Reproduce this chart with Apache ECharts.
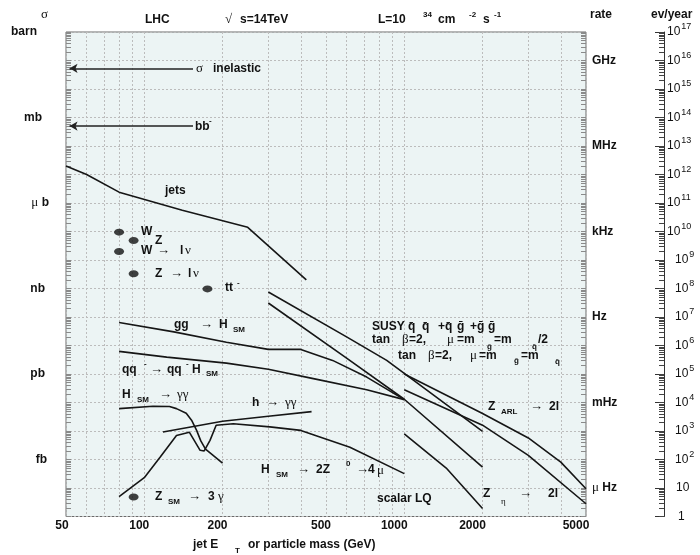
<!DOCTYPE html>
<html><head><meta charset="utf-8">
<script src="https://cdn.jsdelivr.net/npm/echarts@6/dist/echarts.min.js"></script>
<style>html,body{margin:0;padding:0;background:#fff}#c{width:700px;height:555px}</style>
</head><body><div id="c"></div>
<script>
// ---------------- data ----------------
const xTickLabels = [50, 100, 200, 500, 1000, 2000, 5000];
const xGridValues = [50,60,70,80,90,100,200,300,400,500,600,700,800,900,1000,2000,3000,4000,5000];
const sigmaLabels = ['barn', 'mb', 'μ b', 'nb', 'pb', 'fb'];          // at 1, 1e-3, ... barn
const sigmaLabelValues = [1, 1e-3, 1e-6, 1e-9, 1e-12, 1e-15];
const rateLabels = ['GHz', 'MHz', 'kHz', 'Hz', 'mHz', 'μ Hz'];         // L = 1e34 cm^-2 s^-1
const rateLabelValues = [1e-1, 1e-4, 1e-7, 1e-10, 1e-13, 1e-16];

const sigmaInelastic = 0.053;   // barn
const sigmaBBbar = 5.0e-4;      // barn

const jets  = [[50,2.0e-5],[60,1.0e-5],[80,2.4e-6],[140,5.6e-7],[250,1.4e-7],[420,2.0e-9]];
const ggH   = [[80,6.4e-11],[130,3.0e-11],[207,1.3e-11],[300,7.3e-12],[400,7.3e-12],[530,3.0e-12],[717,7.8e-13],[1000,1.26e-13]];
const qqH   = [[80,6.2e-12],[122,3.9e-12],[207,2.4e-12],[300,1.46e-12],[447,6.9e-13],[717,2.8e-13],[1000,1.26e-13]];
const hSMgg = [[80,6.1e-14],[108,7.4e-14],[125,7.2e-14],[133,6.1e-14],[145,4.2e-14],[152,2.4e-14],[159,1.05e-14],[165,4.5e-15],[172,2.3e-15],[184,1.4e-15],[200,7.5e-16]];
const hgg   = [[118,9.2e-15],[200,2.2e-14],[300,3.3e-14],[440,4.8e-14]];
const h4mu  = [[80,5.0e-17],[100,2.3e-16],[115,1.2e-15],[133,7.0e-15],[149,9.1e-15],[164,2.1e-15],[170,2.0e-15],[179,4.7e-15],[189,1.6e-14],[220,1.8e-14],[304,1.4e-14],[400,1.05e-14],[618,2.7e-15],[1000,3.2e-16]];
const susyHalf = [[300,7.5e-10],[600,2.0e-11],[856,3.0e-12],[2000,9.7e-15]];
const susyEq   = [[300,3.1e-10],[600,3.6e-12],[1000,1.3e-13],[2000,5.4e-16]];
const zARL  = [[1000,1.0e-12],[2000,4.1e-14],[3000,5.7e-15],[4000,8.1e-16],[5000,9.4e-17]];
const zEta  = [[1000,2.8e-13],[2000,1.6e-14],[3000,1.4e-15],[5000,2.8e-17]];
const scalarLQ = [[1000,8.0e-15],[1450,5.0e-16],[2000,1.9e-17]];
const dots  = [[80,9.5e-8],[91,4.8e-8],[80,2.0e-8],[91,3.3e-9],[175,9.7e-10],[91,4.8e-17]];

// ---------------- helpers ----------------
const SANS = "'Liberation Sans', Arial, sans-serif";
const SERIF = "'Liberation Serif', 'DejaVu Serif', serif";
function logTicks(lo, hi) { const o = []; for (let e = lo; e < hi; e++) for (let m = 1; m < 10; m++) o.push(+(m + 'e' + e)); o.push(+('1e' + hi)); return o; }
function decades(lo, hi) { const o = []; for (let e = lo; e <= hi; e++) o.push(+('1e' + e)); return o; }

const GRID = { left: 66, top: 32, width: 520, height: 484.5 };
const LINE = { color: '#161616', width: 1.6 };
const TXT = '#111';

// annotation texts [x, y, text, style]
const annotations = [
  [41,15,'σ','y'],
  [145,20,'LHC','b'], [225,20,'√','y'], [240,20,'s=14TeV','b'],
  [378,20,'L=10','b'], [423,15,'34','s'], [438,20,'cm','b'], [469,15,'-2','s'], [483,20,'s','b'], [494,15,'-1','s'],
  [590,15,'rate','b'], [651,15,'ev/year','b'],
  [196,69,'σ','y'], [213,69,'inelastic','b'],
  [195,127,'bb','b'], [209,121,'-','s'],
  [165,191,'jets','b'],
  [141,232,'W','b'], [155,241,'Z','b'],
  [141,251,'W','b'], [157,251,'→','y'], [180,251,'l','b'], [185,251,'ν','y'],
  [155,274,'Z','b'], [170,274,'→','y'], [188,274,'l','b'], [193,274,'ν','y'],
  [225,288,'tt','b'], [237,283,'-','s'],
  [174,325,'gg','b'], [200,325,'→','y'], [219,325,'H','b'], [233,330,'SM','s'],
  [122,370,'qq','b'], [144,364,'-','s'], [150,370,'→','y'], [167,370,'qq','b'], [186,364,'-','s'], [192,370,'H','b'], [206,374,'SM','s'],
  [122,395,'H','b'], [137,400,'SM','s'], [159,395,'→','y'], [177,395,'γγ','y'],
  [252,403,'h','b'], [266,403,'→','y'], [285,403,'γγ','y'],
  [261,470,'H','b'], [276,475,'SM','s'], [297,470,'→','y'], [316,470,'2Z','b'], [346,464,'0','s'], [356,470,'→','y'], [368,470,'4','b'], [377,471,'μ','y'],
  [155,497,'Z','b'], [168,502,'SM','s'], [188,497,'→','y'], [208,497,'3','b'], [218,497,'γ','y'],
  [377,499,'scalar LQ','b'],
  [488,407,'Z','b'], [501,412,'ARL','s'], [530,407,'→','y'], [549,407,'2l','b'],
  [483,494,'Z','b'], [501,502,'η','ys'], [519,494,'→','y'], [548,494,'2l','b'],
  [372,327,'SUSY','b'], [408,327,'q\u0304','b'], [422,327,'q\u0304','b'], [438,327,'+q\u0304','b'], [457,327,'g\u0304','b'], [470,327,'+g\u0304','b'], [488,327,'g\u0304','b'],
  [372,340,'tan','b'], [402,340,'β','y'], [409,340,'=2,','b'], [447,340,'μ','y'], [457,340,'=m','b'], [487,347,'g\u0304','s'], [494,340,'=m','b'], [532,347,'q\u0304','s'], [538,340,'/2','b'],
  [398,356,'tan','b'], [428,356,'β','y'], [435,356,'=2,','b'], [470,356,'μ','y'], [479,356,'=m','b'], [514,361,'g\u0304','s'], [521,356,'=m','b'], [555,362,'q\u0304','s'],
  [193,545,'jet E','b'], [235,551,'T','s'], [248,545,'or particle mass (GeV)','b']
];
const TSTYLE = {
  b:  { fontSize: 12, fontWeight: 'bold', fontFamily: SANS },
  s:  { fontSize: 8,  fontWeight: 'bold', fontFamily: SANS },
  y:  { fontSize: 13, fontWeight: 'normal', fontFamily: SERIF },
  ys: { fontSize: 9,  fontWeight: 'normal', fontFamily: SERIF }
};

// ---------------- options ----------------
const labelBase = { color: TXT, fontSize: 12, fontWeight: 'bold', fontFamily: SANS };
const sigmaPad = [12, 7, 0, 4, 4, 2];
const sigmaRich = { sy: { fontFamily: SERIF, fontSize: 13, fontWeight: 'normal', color: TXT } };
sigmaPad.forEach((p, i) => { sigmaRich['p' + i] = Object.assign({}, labelBase, { padding: [0, p, 0, 0] }); });

const curveSeries = [jets, ggH, qqH, hSMgg, hgg, h4mu, susyHalf, susyEq, zARL, zEta, scalarLQ].map(d => ({
  type: 'line', data: d, xAxisIndex: 0, yAxisIndex: 0, symbol: 'none', silent: true,
  lineStyle: LINE, z: 3
}));

const option = {
  animation: false,
  backgroundColor: '#ffffff',
  grid: [
    Object.assign({ show: true, backgroundColor: '#ecf4f4', borderColor: '#6a6a6a', borderWidth: 1, containLabel: false, outerBoundsMode: 'none' }, GRID),
    { left: 600, top: GRID.top, width: 64, height: GRID.height, containLabel: false, outerBoundsMode: 'none', show: false }
  ],
  xAxis: [
    { type: 'log', gridIndex: 0, min: 50, max: 5000, logBase: 10,
      axisLine: { show: false, onZero: false },
      axisTick: { show: false, customValues: xGridValues },
      splitLine: { show: true, lineStyle: { color: '#bcbcbc', type: [2, 2], width: 1 } },
      axisLabel: { customValues: xTickLabels, margin: 3, color: TXT, fontSize: 12, fontWeight: 'bold', fontFamily: SANS,
        formatter: v => '{w' + String(Math.round(v)).length + '|' + Math.round(v) + '}',
        rich: { w2: Object.assign({}, labelBase, { padding: [0, 8, 0, 0] }),
                w3: Object.assign({}, labelBase, { padding: [0, 10, 0, 0] }),
                w4: Object.assign({}, labelBase, { padding: [0, 20, 0, 0] }) } } },
    { type: 'category', gridIndex: 1, show: false, data: ['a'], axisLine: { onZero: false } }
  ],
  yAxis: [
    { type: 'log', gridIndex: 0, min: 1e-17, max: 1, position: 'left',
      axisLine: { show: false, onZero: false },
      axisTick: { show: true, inside: true, length: 5, customValues: logTicks(-17, 0), lineStyle: { color: '#8a8a8a' } },
      splitLine: { show: false },
      axisLabel: { customValues: sigmaLabelValues, margin: 17, align: 'right',
        formatter: v => { const i = Math.round(-Math.log10(v) / 3); const n = sigmaLabels[i];
          return n.startsWith('μ') ? '{sy|μ}{p' + i + '| ' + n.slice(2) + '}' : '{p' + i + '|' + n + '}'; },
        rich: sigmaRich } },
    { type: 'log', gridIndex: 0, min: 1e-17, max: 1, position: 'right',
      axisLine: { show: false, onZero: false },
      axisTick: { show: true, inside: true, length: 5, customValues: logTicks(-17, 0), lineStyle: { color: '#8a8a8a' } },
      splitLine: { show: false },
      axisLabel: { customValues: rateLabelValues, margin: 6, align: 'left',
        formatter: v => { const i = Math.round(-(Math.log10(v) + 1) / 3); const n = rateLabels[i];
          return n.startsWith('μ') ? '{sy|μ}{t| ' + n.slice(2) + '}' : '{t|' + n + '}'; },
        rich: { sy: { fontFamily: SERIF, fontSize: 13, color: TXT }, t: labelBase } } },
    { type: 'log', gridIndex: 0, min: 1e-17, max: 1, position: 'left',
      axisLine: { show: false, onZero: false }, axisLabel: { show: false },
      axisTick: { show: false, customValues: decades(-17, 0) },
      splitLine: { show: true, lineStyle: { color: '#bcbcbc', type: [2, 2], width: 1 } } },
    { type: 'log', gridIndex: 1, min: 1, max: 1e17, position: 'right',
      axisLine: { show: true, onZero: false, lineStyle: { color: '#333', width: 1 } },
      axisTick: { show: true, inside: true, length: 9, customValues: decades(0, 17), lineStyle: { color: '#333' } },
      splitLine: { show: false },
      axisLabel: { customValues: decades(0, 17), margin: 3, align: 'left',
        formatter: v => { const e = Math.round(Math.log10(v));
          if (e === 0) return '{o|1}'; if (e === 1) return '{t|10}';
          return (e < 10 ? '{m|10}' : '{b|10}') + '{s|' + e + '}'; },
        rich: { o: Object.assign({}, labelBase, { fontWeight: 'normal', padding: [0, 0, 0, 11] }),
                t: Object.assign({}, labelBase, { fontWeight: 'normal', padding: [0, 0, 0, 9] }),
                m: Object.assign({}, labelBase, { fontWeight: 'normal', padding: [0, 0, 0, 8] }),
                b: Object.assign({}, labelBase, { fontWeight: 'normal' }),
                s: { color: TXT, fontSize: 9, fontFamily: SANS, padding: [0, 0, 10, 1] } } } },
    { type: 'log', gridIndex: 1, min: 1, max: 1e17, position: 'right',
      axisLine: { show: false, onZero: false }, axisLabel: { show: false }, splitLine: { show: false },
      axisTick: { show: true, inside: true, length: 5, customValues: logTicks(0, 17), lineStyle: { color: '#444' } } }
  ],
  series: curveSeries.concat([
    { type: 'scatter', data: dots, xAxisIndex: 0, yAxisIndex: 0, silent: true, z: 4,
      symbol: 'path://M0,5 A10,5 0 1,0 20,5 A10,5 0 1,0 0,5 Z', symbolSize: [10, 7],
      itemStyle: { color: '#111' } },
    { type: 'line', data: [], xAxisIndex: 0, yAxisIndex: 0, silent: true,
      markLine: { silent: true, symbol: ['none', 'arrow'], symbolSize: [7, 8],
        label: { show: false }, lineStyle: { color: '#222', width: 1.6, type: 'solid' },
        data: [
          [{ coord: [154, sigmaInelastic] }, { coord: [51.6, sigmaInelastic] }],
          [{ coord: [154, sigmaBBbar] }, { coord: [51.6, sigmaBBbar] }]
        ] } }
  ]),
  graphic: annotations.map(([x, y, t, k]) => ({
    type: 'text', x: x, y: y, silent: true, z: 10,
    style: Object.assign({ text: t, fill: TXT, align: 'left', verticalAlign: 'middle' }, TSTYLE[k])
  }))
};

const chart = echarts.init(document.getElementById('c'), null, { renderer: 'canvas' });
chart.setOption(option);
</script>
</body></html>
